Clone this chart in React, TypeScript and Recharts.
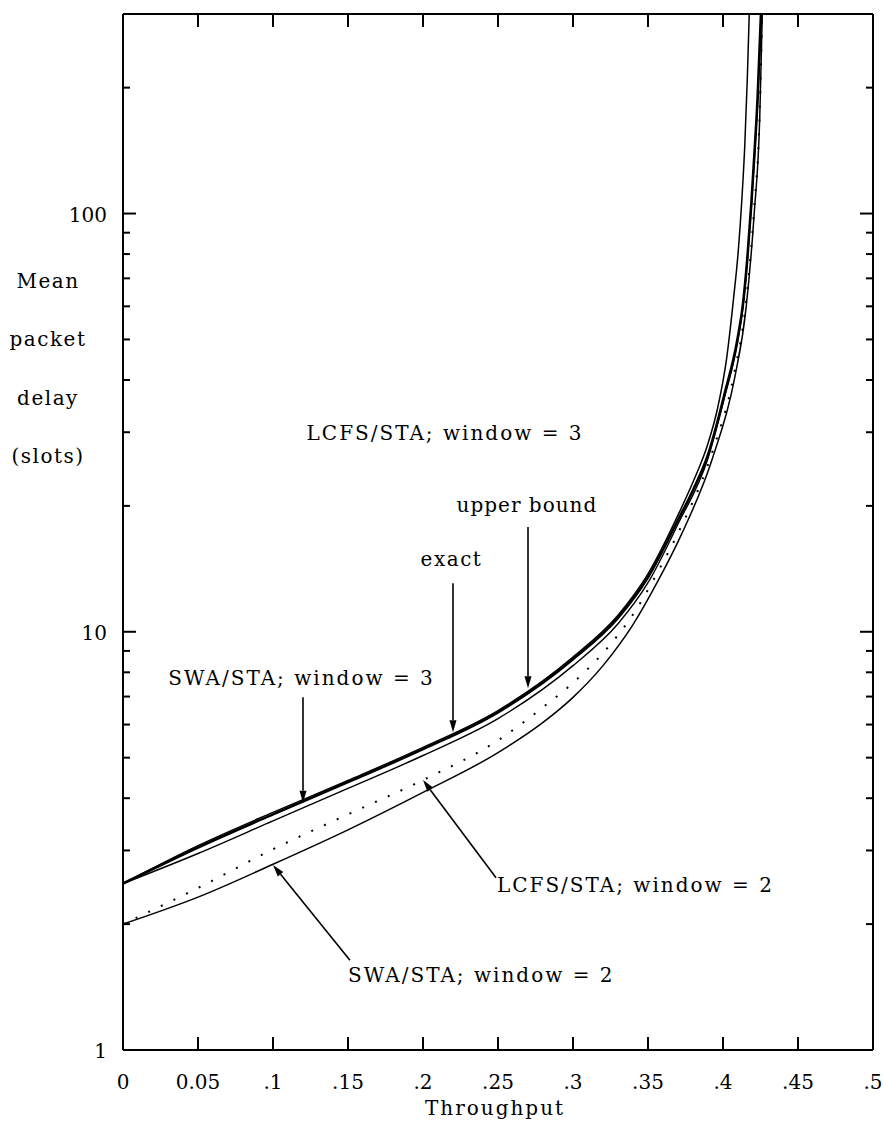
import React from 'react';
import { LineChart, Line, XAxis, YAxis, ReferenceLine, ReferenceDot } from 'recharts';

// ---- axes ----
const xDomain = [0, 0.5];
const xTicks = [0, 0.05, 0.1, 0.15, 0.2, 0.25, 0.3, 0.35, 0.4, 0.45, 0.5];
const xTickLabels = ['0', '0.05', '.1', '.15', '.2', '.25', '.3', '.35', '.4', '.45', '.5'];
const yDomain = [1, 300];
const yTicks = [1, 2, 3, 4, 5, 6, 7, 8, 9, 10, 20, 30, 40, 50, 60, 70, 80, 90, 100, 200, 300];
const yMajor = [1, 10, 100];
const xTitle = 'Throughput';
const yTitle = ['Mean', 'packet', 'delay', '(slots)'];

// ---- series (throughput, mean delay) ----
// LCFS/STA window = 3, upper bound
const ubX = [0, 0.05, 0.1, 0.15, 0.2, 0.25, 0.3, 0.33, 0.35, 0.37, 0.38, 0.39, 0.3962, 0.4024, 0.4069, 0.4102, 0.4125, 0.4145, 0.4162, 0.4175];
const ubY = [2.5, 3.08, 3.7, 4.41, 5.29, 6.48, 8.7, 10.95, 13.75, 19.0, 22.8, 28.2, 34, 45, 62, 81.6, 107, 145, 210, 300];
// LCFS/STA window = 3, exact
const exactX = [0, 0.05, 0.1, 0.15, 0.2, 0.25, 0.3, 0.33, 0.35, 0.37, 0.38, 0.39, 0.401, 0.4096, 0.4136, 0.4162, 0.419, 0.4209, 0.4231, 0.4253];
const exactY = [2.5, 3.05, 3.66, 4.37, 5.24, 6.42, 8.6, 10.8, 13.5, 18.5, 21.8, 26.5, 37, 50, 62, 78, 107, 138, 190, 300];
// SWA/STA window = 3
const swa3X = [0, 0.05, 0.1, 0.15, 0.2, 0.25, 0.3, 0.33, 0.35, 0.37, 0.39, 0.401, 0.4096, 0.4136, 0.4162, 0.419, 0.4209, 0.4231, 0.4255];
const swa3Y = [2.5, 2.95, 3.53, 4.22, 5.06, 6.2, 8.3, 10.45, 13.1, 18.1, 26.0, 36.3, 49, 61, 77, 105, 135, 186, 300];
// LCFS/STA window = 2 (dotted)
const lcfs2X = [0, 0.05, 0.1, 0.15, 0.2, 0.25, 0.28, 0.3, 0.32, 0.34, 0.357, 0.372, 0.393, 0.4075, 0.4155, 0.4208, 0.4245, 0.4261];
const lcfs2Y = [2.0, 2.44, 3.02, 3.66, 4.42, 5.5, 6.6, 7.55, 8.9, 11.0, 14.0, 17.8, 27.0, 41.5, 62, 103, 175, 300];
// SWA/STA window = 2
const swa2X = [0, 0.05, 0.1, 0.15, 0.2, 0.25, 0.28, 0.3, 0.32, 0.34, 0.357, 0.372, 0.393, 0.4075, 0.4155, 0.4208, 0.4245, 0.4262];
const swa2Y = [2.0, 2.32, 2.78, 3.36, 4.13, 5.14, 6.07, 6.97, 8.3, 10.4, 13.3, 17.0, 26.0, 40.0, 60, 100, 170, 300];

// ---- annotations ----
const arrows = [
  { from: [0.27, 17.8], to: [0.27, 7.33] },
  { from: [0.22, 13.06], to: [0.22, 5.75] },
  { from: [0.12, 6.97], to: [0.12, 3.9] },
  { from: [0.2487, 2.58], to: [0.2, 4.42] },
  { from: [0.1513, 1.64], to: [0.1, 2.77] },
];
const notes = [
  { text: 'LCFS/STA; window = 3', at: [0.2147, 28.8], anchor: 'middle', spacing: 2 },
  { text: 'upper bound', at: [0.2693, 19.3], anchor: 'middle', spacing: 1 },
  { text: 'exact', at: [0.219, 14.4], anchor: 'middle', spacing: 1.5 },
  { text: 'SWA/STA; window = 3', at: [0.119, 7.45], anchor: 'middle', spacing: 2 },
  { text: 'LCFS/STA; window = 2', at: [0.2493, 2.385], anchor: 'start', spacing: 2 },
  { text: 'SWA/STA; window = 2', at: [0.15, 1.454], anchor: 'start', spacing: 2 },
];

const pts = (xs: number[], ys: number[]) => xs.map((x, i) => ({ x, y: ys[i] }));

const FONT = "'DejaVu Serif', 'Liberation Serif', serif";
const INK = '#000';

const LeftTick = (p: any) => {
  const v = p.payload.value;
  const major = yMajor.includes(v);
  return (
    <g>
      <line x1={p.x} y1={p.y} x2={p.x + (major ? 13 : 7)} y2={p.y} stroke={INK} strokeWidth={2} />
      {major && (
        <text x={p.x - 16} y={p.y + 8} textAnchor="end" fontFamily={FONT} fontSize={20} fill={INK}>
          {v}
        </text>
      )}
    </g>
  );
};

const RightTick = (p: any) => {
  const major = yMajor.includes(p.payload.value);
  return <line x1={p.x} y1={p.y} x2={p.x - (major ? 13 : 7)} y2={p.y} stroke={INK} strokeWidth={2} />;
};

const TopTick = (p: any) => <line x1={p.x} y1={p.y} x2={p.x} y2={p.y + 13} stroke={INK} strokeWidth={2} />;

const BottomTick = (p: any) => {
  const idx = xTicks.indexOf(p.payload.value);
  return (
    <g>
      <line x1={p.x} y1={p.y} x2={p.x} y2={p.y - 13} stroke={INK} strokeWidth={2} />
      <text x={p.x} y={p.y + 39} textAnchor="middle" fontFamily={FONT} fontSize={20} fill={INK}>
        {xTickLabels[idx]}
      </text>
    </g>
  );
};

const Arrow = (p: any) => {
  const { x1, y1, x2, y2 } = p;
  const dx = x2 - x1;
  const dy = y2 - y1;
  const len = Math.hypot(dx, dy) || 1;
  const ux = dx / len;
  const uy = dy / len;
  const hl = 12;
  const hw = 3.5;
  const bx = x2 - ux * hl;
  const by = y2 - uy * hl;
  const poly = `${x2},${y2} ${bx - uy * hw},${by + ux * hw} ${bx + uy * hw},${by - ux * hw}`;
  return (
    <g>
      <line x1={x1} y1={y1} x2={bx} y2={by} stroke={INK} strokeWidth={1.6} />
      <polygon points={poly} fill={INK} />
    </g>
  );
};

const makeNote = (text: string, anchor: string, spacing: number) => (p: any) => (
  <text x={p.cx} y={p.cy} textAnchor={anchor} fontFamily={FONT} fontSize={20} letterSpacing={spacing} fill={INK}>
    {text}
  </text>
);

const YTitle = (p: any) => {
  const vb = p.viewBox || { x: 0, y: 14 };
  const base = [274, 332, 391, 449];
  return (
    <g>
      {yTitle.map((t, i) => (
        <text key={t} x={vb.x + 48} y={vb.y + base[i]} textAnchor="middle" fontFamily={FONT} fontSize={20} letterSpacing={1.5} fill={INK}>
          {t}
        </text>
      ))}
    </g>
  );
};

const XTitle = (p: any) => {
  const vb = p.viewBox || { x: 123, y: 1050, width: 750 };
  return (
    <text x={vb.x + vb.width / 2 - 3} y={vb.y + 65} textAnchor="middle" fontFamily={FONT} fontSize={20} letterSpacing={2} fill={INK}>
      {xTitle}
    </text>
  );
};

const axisLine = { stroke: INK, strokeWidth: 2 };

export default function App() {
  const series = [
    { id: 'ub', data: pts(ubX, ubY), w: 1.5, dash: undefined },
    { id: 'exact', data: pts(exactX, exactY), w: 2.6, dash: undefined },
    { id: 'swa3', data: pts(swa3X, swa3Y), w: 1.4, dash: undefined },
    { id: 'lcfs2', data: pts(lcfs2X, lcfs2Y), w: 2, dash: '2 12' },
    { id: 'swa2', data: pts(swa2X, swa2Y), w: 1.5, dash: undefined },
  ];
  return (
    <div style={{ position: 'absolute', left: 0, top: 0, width: 886, height: 1123, background: '#fff' }}>
      <LineChart width={886} height={1123} margin={{ top: 13, right: 12, bottom: 0, left: 0 }}>
        <XAxis
          xAxisId="b"
          type="number"
          dataKey="x"
          domain={xDomain}
          ticks={xTicks}
          interval={0}
          orientation="bottom"
          height={73}
          tickSize={0}
          tickMargin={0}
          tickLine={false}
          axisLine={axisLine}
          tick={BottomTick}
          allowDataOverflow
          label={{ content: XTitle }}
        />
        <XAxis
          xAxisId="t"
          type="number"
          dataKey="x"
          domain={xDomain}
          ticks={xTicks}
          interval={0}
          orientation="top"
          height={1}
          tickSize={0}
          tickMargin={0}
          tickLine={false}
          axisLine={axisLine}
          tick={TopTick}
          allowDataOverflow
        />
        <YAxis
          yAxisId="l"
          type="number"
          scale="log"
          domain={yDomain}
          ticks={yTicks}
          interval={0}
          orientation="left"
          width={123}
          tickSize={0}
          tickMargin={0}
          tickLine={false}
          axisLine={axisLine}
          tick={LeftTick}
          allowDataOverflow
          label={{ content: YTitle }}
        />
        <YAxis
          yAxisId="r"
          type="number"
          scale="log"
          domain={yDomain}
          ticks={yTicks}
          interval={0}
          orientation="right"
          width={1}
          tickSize={0}
          tickMargin={0}
          tickLine={false}
          axisLine={axisLine}
          tick={RightTick}
          allowDataOverflow
        />
        {series.map((s) => (
          <Line
            key={s.id}
            data={s.data}
            dataKey="y"
            xAxisId="b"
            yAxisId="l"
            type="monotone"
            stroke={INK}
            strokeWidth={s.w}
            strokeDasharray={s.dash}
            dot={false}
            activeDot={false}
            isAnimationActive={false}
          />
        ))}
        {arrows.map((a, i) => (
          <ReferenceLine
            key={'a' + i}
            xAxisId="b"
            yAxisId="l"
            segment={[
              { x: a.from[0], y: a.from[1] },
              { x: a.to[0], y: a.to[1] },
            ]}
            ifOverflow="visible"
            shape={Arrow}
          />
        ))}
        {notes.map((n, i) => (
          <ReferenceDot
            key={'n' + i}
            xAxisId="b"
            yAxisId="l"
            x={n.at[0]}
            y={n.at[1]}
            r={0}
            ifOverflow="visible"
            shape={makeNote(n.text, n.anchor, n.spacing)}
          />
        ))}
      </LineChart>
    </div>
  );
}
